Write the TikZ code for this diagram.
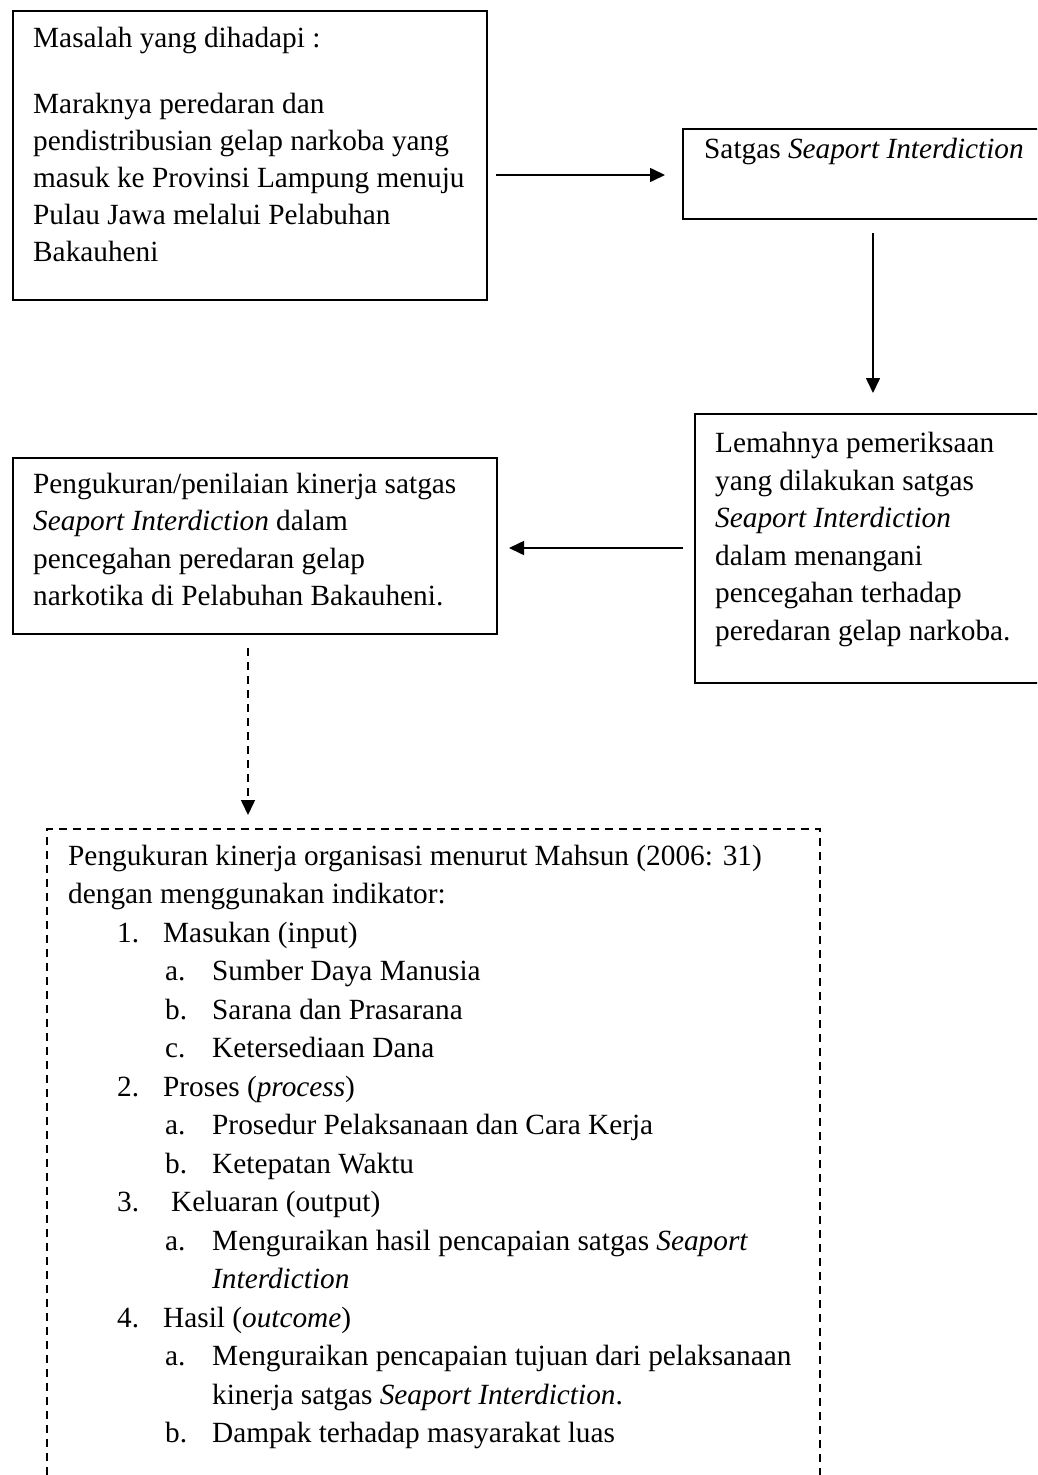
\documentclass[tikz,border=0pt]{standalone}
\usepackage{fontspec}
\setmainfont{Liberation Serif}
\usetikzlibrary{arrows.meta}
\begin{document}
\begin{tikzpicture}[x=1pt,y=-1pt,
  box/.style={draw, line width=1.7pt, inner sep=0pt, anchor=north west},
  dbox/.style={box, dash pattern=on 8pt off 6pt},
  txt/.style={anchor=base west, inner sep=0pt, font=\fontsize{29.3}{36}\selectfont},
  conn/.style={line width=1.6pt, -{Triangle[length=15pt,width=14pt]}},
  dconn/.style={conn, dash pattern=on 8pt off 6pt}]
\useasboundingbox (0,0) rectangle (1037,1475);
\clip (0,0) rectangle (1037,1475);
% boxes
\node[box, minimum width=474pt, minimum height=289pt] (b1) at (12,10) {};
\node[box, minimum width=400pt, minimum height=90pt] (b2) at (682,128) {};
\node[box, minimum width=400pt, minimum height=269pt] (b3) at (694,413) {};
\node[box, minimum width=484pt, minimum height=176pt] (b4) at (12,457) {};
\node[dbox, minimum width=773pt, minimum height=700pt] (b5) at (46,828) {};
% box 1 text
\node[txt] (t11) at (33,47) {Masalah yang dihadapi :};
\node[txt] (t12) at (33,113) {Maraknya peredaran dan};
\node[txt] (t13) at (33,150) {pendistribusian gelap narkoba yang};
\node[txt] (t14) at (33,187) {masuk ke Provinsi Lampung menuju};
\node[txt] (t15) at (33,224) {Pulau Jawa melalui Pelabuhan};
\node[txt] (t16) at (33,261) {Bakauheni};
% box 2 text
\node[txt] (t21) at (704,158) {Satgas \textit{Seaport Interdiction}};
% box 3 text
\node[txt] (t31) at (715,452) {Lemahnya pemeriksaan};
\node[txt] (t32) at (715,490) {yang dilakukan satgas};
\node[txt] (t33) at (715,527) {\textit{Seaport Interdiction}};
\node[txt] (t34) at (715,565) {dalam menangani};
\node[txt] (t35) at (715,602) {pencegahan terhadap};
\node[txt] (t36) at (715,640) {peredaran gelap narkoba.};
% box 4 text
\node[txt] (t41) at (33,493) {Pengukuran/penilaian kinerja satgas};
\node[txt] (t42) at (33,530) {\textit{Seaport Interdiction} dalam};
\node[txt] (t43) at (33,568) {pencegahan peredaran gelap};
\node[txt] (t44) at (33,605) {narkotika di Pelabuhan Bakauheni.};
% box 5 text
\def\L#1{{865+38.5*#1}}
\node[txt] (t500) at (68,\L{0}) {Pengukuran kinerja organisasi menurut Mahsun (2006: 31)};
\node[txt] (t501) at (68,\L{1}) {dengan menggunakan indikator:};
\node[txt] (n1) at (117,\L{2}) {1.};
\node[txt] (t502) at (163,\L{2}) {Masukan (input)};
\node[txt] (l1a) at (165,\L{3}) {a.};
\node[txt] (t503) at (212,\L{3}) {Sumber Daya Manusia};
\node[txt] (l1b) at (165,\L{4}) {b.};
\node[txt] (t504) at (212,\L{4}) {Sarana dan Prasarana};
\node[txt] (l1c) at (165,\L{5}) {c.};
\node[txt] (t505) at (212,\L{5}) {Ketersediaan Dana};
\node[txt] (n2) at (117,\L{6}) {2.};
\node[txt] (t506) at (163,\L{6}) {Proses (\textit{process})};
\node[txt] (l2a) at (165,\L{7}) {a.};
\node[txt] (t507) at (212,\L{7}) {Prosedur Pelaksanaan dan Cara Kerja};
\node[txt] (l2b) at (165,\L{8}) {b.};
\node[txt] (t508) at (212,\L{8}) {Ketepatan Waktu};
\node[txt] (n3) at (117,\L{9}) {3.};
\node[txt] (t509) at (171,\L{9}) {Keluaran (output)};
\node[txt] (l3a) at (165,\L{10}) {a.};
\node[txt] (t510) at (212,\L{10}) {Menguraikan hasil pencapaian satgas \textit{Seaport}};
\node[txt] (t511) at (212,\L{11}) {\textit{Interdiction}};
\node[txt] (n4) at (117,\L{12}) {4.};
\node[txt] (t512) at (163,\L{12}) {Hasil (\textit{outcome})};
\node[txt] (l4a) at (165,\L{13}) {a.};
\node[txt] (t513) at (212,\L{13}) {Menguraikan pencapaian tujuan dari pelaksanaan};
\node[txt] (t514) at (212,\L{14}) {kinerja satgas \textit{Seaport Interdiction}.};
\node[txt] (l4b) at (165,\L{15}) {b.};
\node[txt] (t515) at (212,\L{15}) {Dampak terhadap masyarakat luas};
% connector end points
\coordinate (a1s) at (496,175);
\coordinate (a1e) at (665,175);
\coordinate (a2s) at (873,233);
\coordinate (a2e) at (873,393);
\coordinate (a3s) at (683,548);
\coordinate (a3e) at (509,548);
\coordinate (a4s) at (248,648);
\coordinate (a4e) at (248,815);
\draw[conn] (a1s) -- (a1e);
\draw[conn] (a2s) -- (a2e);
\draw[conn] (a3s) -- (a3e);
\draw[dconn] (a4s) -- (a4e);
\end{tikzpicture}
\end{document}
